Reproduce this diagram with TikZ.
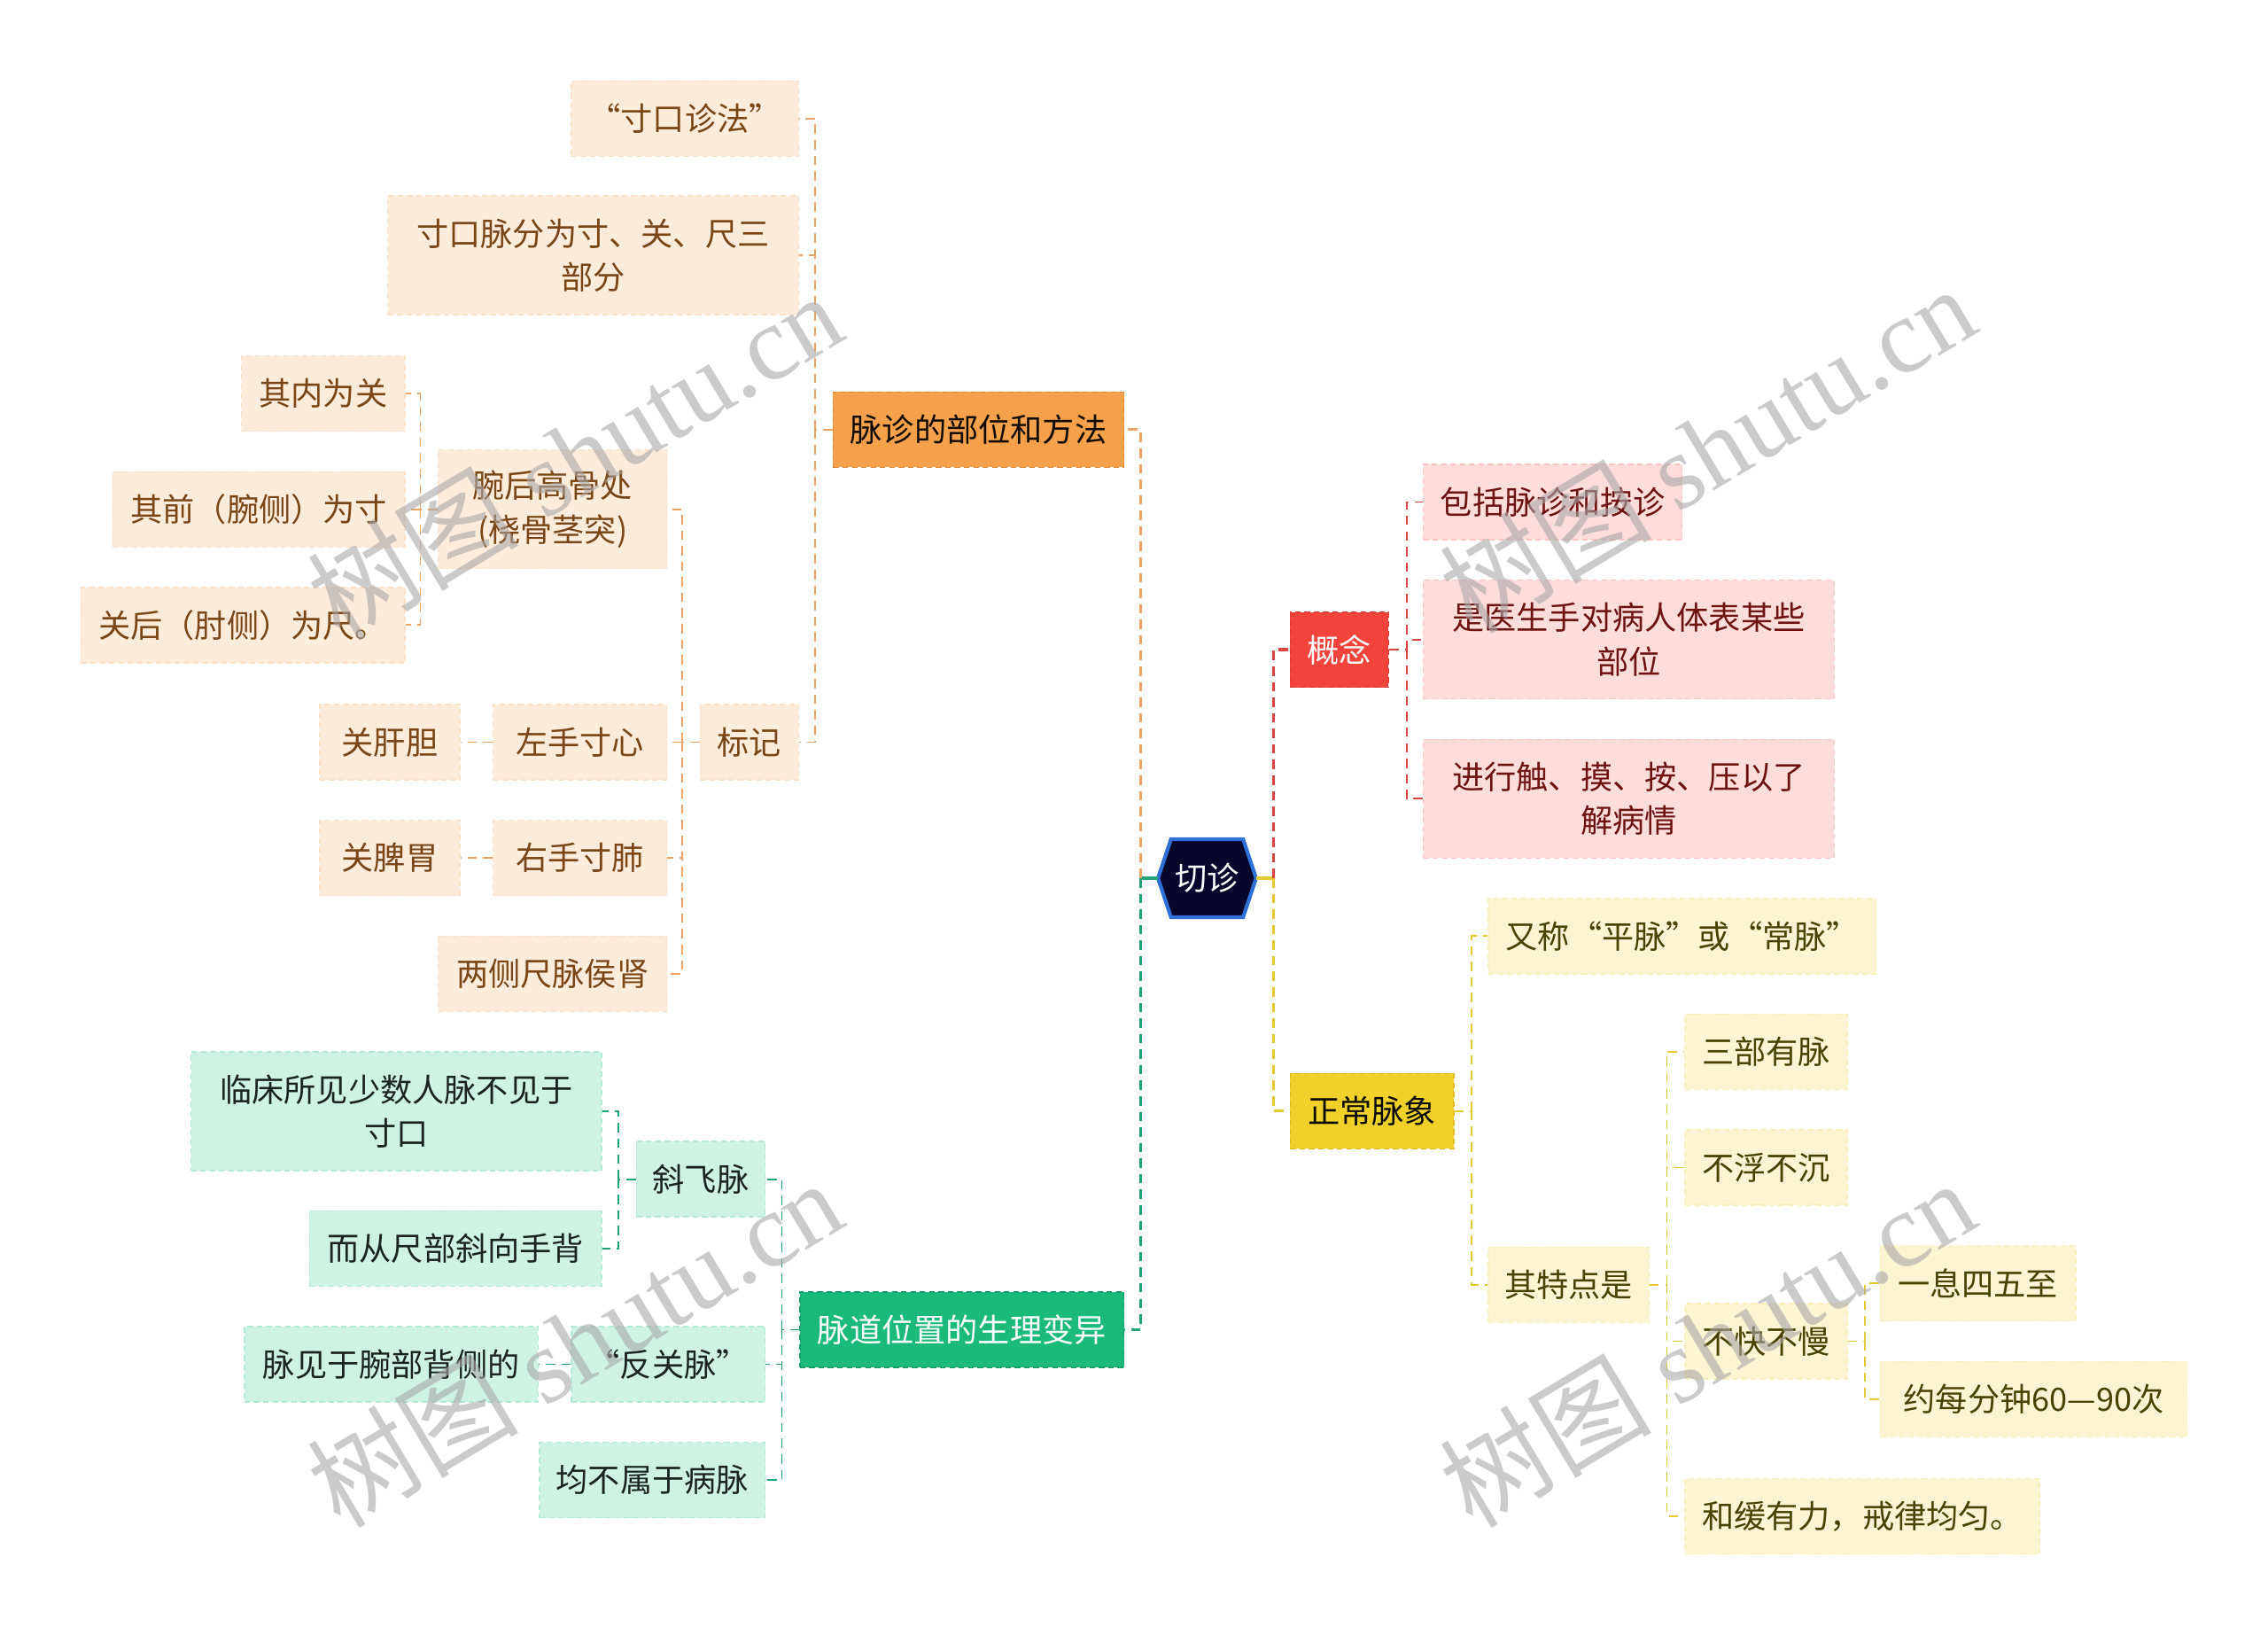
\documentclass[tikz,border=0pt]{standalone}
\usepackage{fontspec}
\setmainfont{Liberation Serif}
\newfontfamily\cjk{Noto Sans CJK SC}
\usepackage{tikz}
\usetikzlibrary{positioning, calc, backgrounds}

\definecolor{rootfill}{HTML}{06062C}
\definecolor{rootline}{HTML}{2F6FD6}
\definecolor{orMain}{HTML}{F5A04A}
\definecolor{orEdge}{HTML}{E08838}
\definecolor{orLight}{HTML}{FDEBDC}
\definecolor{orText}{HTML}{7B4515}
\definecolor{orLine}{HTML}{E9A468}
\definecolor{rdMain}{HTML}{F3443B}
\definecolor{rdEdge}{HTML}{D63A33}
\definecolor{rdLight}{HTML}{FDDCDC}
\definecolor{rdText}{HTML}{6E1212}
\definecolor{rdLine}{HTML}{D94545}
\definecolor{ylMain}{HTML}{F2D02A}
\definecolor{ylEdge}{HTML}{DDBB20}
\definecolor{ylLight}{HTML}{FCF5D3}
\definecolor{ylText}{HTML}{4A4200}
\definecolor{ylLine}{HTML}{E5C935}
\definecolor{gnMain}{HTML}{1BBA7B}
\definecolor{gnEdge}{HTML}{16A06A}
\definecolor{gnLight}{HTML}{CFF2E3}
\definecolor{gnText}{HTML}{1C2420}
\definecolor{gnLine}{HTML}{22A373}
\definecolor{wmark}{HTML}{A8A8A8}

\tikzset{
  box/.style={rectangle, inner xsep=0pt, inner ysep=0pt, align=center,
    font=\cjk\fontsize{10.3pt}{14pt}\selectfont,
    line width=0.4pt, dash pattern=on 1.8pt off 1.2pt, minimum height=0.85cm},
  bw/.style={minimum width=#1*0.016327cm},
  tall/.style={minimum height=1.34cm},
  orTop/.style={box, fill=orMain, draw=orEdge, text=black!85!orText},
  orSub/.style={box, fill=orLight, draw=orLight!85!orMain, text=orText},
  rdTop/.style={box, fill=rdMain, draw=rdEdge, text=white},
  rdSub/.style={box, fill=rdLight, draw=rdLight!85!rdMain, text=rdText},
  ylTop/.style={box, fill=ylMain, draw=ylEdge, text=black!85!ylText},
  ylSub/.style={box, fill=ylLight, draw=ylLight!85!ylMain, text=ylText},
  gnTop/.style={box, fill=gnMain, draw=gnEdge, text=white},
  gnSub/.style={box, fill=gnLight, draw=gnLight!85!gnMain, text=gnText},
  rootnode/.style={box, draw=none, text=white, minimum width=67*0.016327cm, minimum height=53*0.016327cm},
  lnMain/.style={line width=0.9pt, dash pattern=on 3pt off 2pt},
  lnSub/.style={line width=0.5pt, dash pattern=on 3pt off 2pt},
  wm/.style={text=wmark, opacity=0.6, rotate=31, font=\fontsize{34pt}{34pt}\selectfont}
}

\begin{document}
\begin{tikzpicture}[x=0.016327cm, y=-0.016327cm]
\useasboundingbox (0,0) rectangle (1568,1130);

% centre
\node[rootnode] (root) at (834.5,607) {切诊};
\begin{scope}[on background layer]
\filldraw[fill=rootfill, draw=rootline, line width=1.2pt] (root.west) -- ($(root.north west)+(9,0)$) -- ($(root.north east)+(-9,0)$) -- (root.east) -- ($(root.south east)+(-9,0)$) -- ($(root.south west)+(9,0)$) -- cycle;
\end{scope}

% left top: method
\node[orTop, bw=201] (m1) at (676.5,297) {脉诊的部位和方法};
\node[orSub, bw=157] (a1) at (473.5,82) {“寸口诊法”};
\node[orSub, bw=284, tall] (a2) at (410,176.5) {寸口脉分为寸、关、尺三\\部分};
\node[orSub, bw=68] (a3) at (518,513) {标记};
\node[orSub, bw=158, tall] (b1) at (382,352) {腕后高骨处\\(桡骨茎突)};
\node[orSub, bw=120] (b2) at (401,513) {左手寸心};
\node[orSub, bw=120] (b3) at (401,593) {右手寸肺};
\node[orSub, bw=158] (b4) at (382,673) {两侧尺脉侯肾};
\node[orSub, bw=113] (c1) at (223.5,272) {其内为关};
\node[orSub, bw=202] (c2) at (179,352) {其前（腕侧）为寸};
\node[orSub, bw=224] (c3) at (168,432) {关后（肘侧）为尺。};
\node[orSub, bw=97] (d1) at (269.5,513) {关肝胆};
\node[orSub, bw=97] (d2) at (269.5,593) {关脾胃};

% right top: concept
\node[rdTop, bw=68] (r0) at (926,449) {概念};
\node[rdSub, bw=179] (r1) at (1073.5,347) {包括脉诊和按诊};
\node[rdSub, bw=284, tall] (r2) at (1126,442) {是医生手对病人体表某些\\部位};
\node[rdSub, bw=284, tall] (r3) at (1126,552) {进行触、摸、按、压以了\\解病情};

% right bottom: normal pulse
\node[ylTop, bw=113] (y0) at (948.5,768) {正常脉象};
\node[ylSub, bw=268] (y1) at (1163,647) {又称“平脉”或“常脉”};
\node[ylSub, bw=111] (y2) at (1084.5,888) {其特点是};
\node[ylSub, bw=112] (y3) at (1221,727) {三部有脉};
\node[ylSub, bw=112] (y4) at (1221,807) {不浮不沉};
\node[ylSub, bw=112] (y5) at (1221,927) {不快不慢};
\node[ylSub, bw=245] (y6) at (1287.5,1048) {和缓有力，戒律均匀。};
\node[ylSub, bw=135] (y7) at (1367.5,887) {一息四五至};
\node[ylSub, bw=212] (y8) at (1406,967) {约每分钟60—90次};

% left bottom: variations
\node[gnTop, bw=224] (g0) at (665,919) {脉道位置的生理变异};
\node[gnSub, bw=89] (g1) at (484.5,815) {斜飞脉};
\node[gnSub, bw=134] (g2) at (462,943) {“反关脉”};
\node[gnSub, bw=156] (g3) at (451,1023) {均不属于病脉};
\node[gnSub, bw=284, tall] (g4) at (274,768) {临床所见少数人脉不见于\\寸口};
\node[gnSub, bw=202] (g5) at (315,863) {而从尺部斜向手背};
\node[gnSub, bw=203] (g6) at (270.5,943) {脉见于腕部背侧的};

% main links
\draw[gnLine, line width=0.9pt] (root.west) -- ++(-12,0) coordinate (jl);
\draw[orLine, lnMain] (jl) |- (m1.east);
\draw[gnLine, lnMain] (jl) |- (g0.east);
\draw[ylLine, line width=0.9pt] (root.east) -- ++(12,0) coordinate (jr);
\draw[rdLine, lnMain] (jr) |- (r0.west);
\draw[ylLine, lnMain] (jr) |- (y0.west);

% orange links
\draw[orLine, lnSub] (m1.west) -- ++(-12,0) coordinate (j1);
\draw[orLine, lnSub] (j1) |- (a1.east);
\draw[orLine, lnSub] (j1) |- (a2.east);
\draw[orLine, lnSub] (j1) |- (a3.east);
\draw[orLine, lnSub] (a3.west) -- ++(-12,0) coordinate (j2);
\draw[orLine, lnSub] (j2) |- (b1.east);
\draw[orLine, lnSub] (j2) |- (b2.east);
\draw[orLine, lnSub] (j2) |- (b3.east);
\draw[orLine, lnSub] (j2) |- (b4.east);
\draw[orLine, lnSub] (b1.west) -- ++(-12,0) coordinate (j3);
\draw[orLine, lnSub] (j3) |- (c1.east);
\draw[orLine, lnSub] (j3) |- (c2.east);
\draw[orLine, lnSub] (j3) |- (c3.east);
\draw[orLine, lnSub] (b2.west) -- (d1.east);
\draw[orLine, lnSub] (b3.west) -- (d2.east);

% red links
\draw[rdLine, lnSub] (r0.east) -- ++(12,0) coordinate (j4);
\draw[rdLine, lnSub] (j4) |- (r1.west);
\draw[rdLine, lnSub] (j4) |- (r2.west);
\draw[rdLine, lnSub] (j4) |- (r3.west);

% yellow links
\draw[ylLine, lnSub] (y0.east) -- ++(12,0) coordinate (j5);
\draw[ylLine, lnSub] (j5) |- (y1.west);
\draw[ylLine, lnSub] (j5) |- (y2.west);
\draw[ylLine, lnSub] (y2.east) -- ++(12,0) coordinate (j6);
\draw[ylLine, lnSub] (j6) |- (y3.west);
\draw[ylLine, lnSub] (j6) |- (y4.west);
\draw[ylLine, lnSub] (j6) |- (y5.west);
\draw[ylLine, lnSub] (j6) |- (y6.west);
\draw[ylLine, lnSub] (y5.east) -- ++(12,0) coordinate (j7);
\draw[ylLine, lnSub] (j7) |- (y7.west);
\draw[ylLine, lnSub] (j7) |- (y8.west);

% green links
\draw[gnLine, lnSub] (g0.west) -- ++(-12,0) coordinate (j8);
\draw[gnLine, lnSub] (j8) |- (g1.east);
\draw[gnLine, lnSub] (j8) |- (g2.east);
\draw[gnLine, lnSub] (j8) |- (g3.east);
\draw[gnLine, lnSub] (g1.west) -- ++(-12,0) coordinate (j9);
\draw[gnLine, lnSub] (j9) |- (g4.east);
\draw[gnLine, lnSub] (j9) |- (g5.east);
\draw[gnLine, lnSub] (g2.west) -- (g6.east);

% watermarks
\node[wm] (wm1) at (397,315) {{\cjk 树图} shutu.cn};
\node[wm] (wm2) at (1180,310) {{\cjk 树图} shutu.cn};
\node[wm] (wm3) at (397,928) {{\cjk 树图} shutu.cn};
\node[wm] (wm4) at (1180,928) {{\cjk 树图} shutu.cn};
\end{tikzpicture}
\end{document}
